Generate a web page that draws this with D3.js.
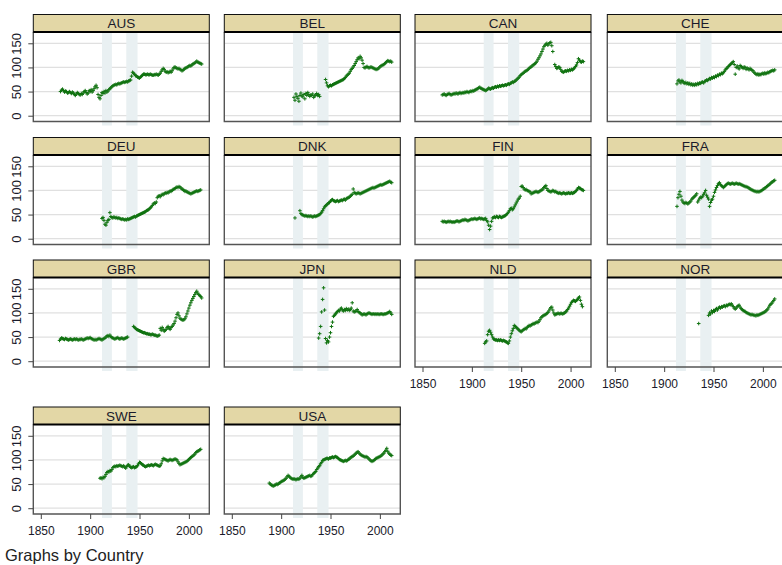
<!DOCTYPE html>
<html>
<head>
<meta charset="utf-8">
<script src="https://cdn.jsdelivr.net/npm/d3@7"></script>
<style>
  body { margin: 0; background: #fff; }
  svg { display: block; }
  text { font-family: "Liberation Sans", Arial, sans-serif; }
</style>
</head>
<body>
<div id="chart"></div>
<script>
// panels in the order Stata lays them out
const countries = ['AUS', 'BEL', 'CAN', 'CHE', 'DEU', 'DNK', 'FIN', 'FRA', 'GBR', 'JPN', 'NLD', 'NOR', 'SWE', 'USA'];
const startYears = [1870, 1913, 1870, 1913, 1912, 1914, 1870, 1913, 1869, 1938, 1913, 1935, 1910, 1888];

const yTicks = [0, 50, 100, 150];
const xTicks = [1850, 1900, 1950, 2000];
const warBands = [[1912, 1922], [1936.6, 1948]];

// annual values, one per year from the start year (null = no observation)
const AUS = [50, 53, 55, 52, 49, 51, 50, 47, 48, 50,
  48, 46, 49, 47, 44, 42, 45, 48, 46, 44,
  43, 46, 44, 47, 50, 52, 48, 45, 47, 52,
  50, 54, 49, 52, 56, 60, 63, 58, 44, 38,
  35, 42, 48, 46, 50, 47, 52, 49, 51, 54,
  56, 58, 60, 62, 63, 64, 65, 64, 66, 67,
  66, 67, 68, 69, 70, 69, 70, 71, 70, 72,
  73, 74, 82, 90, 88, 86, 83, 82, 80, 79,
  78, 80, 82, 84, 86, 86, 85, 85, 86, 85,
  85, 86, 85, 84, 84, 85, 85, 86, 85, 84,
  86, 88, 92, 95, 98, 96, 92, 90, 91, 89,
  90, 92, 90, 93, 97, 100, 101, 99, 98, 97,
  98, 96, 95, 93, 94, 96, 98, 99, 100, 101,
  103, 104, 103, 105, 107, 108, 109, 111, 113, 111,
  110, 109, 108, 107];
const BEL = [38, 32, 45, 40, 36, 30, 42,
  47, 41, 39, 44, 35, 46, 42, 48, 44, 40,
  43, 42, 45, 38, 41, 43, 46, 42, 44, 40,
  null, null, null, null, null, 75, 68, 62, 60, 62,
  63, 62, 64, 65, 66, 67, 68, 69, 70, 71,
  72, 73, 74, 75, 77, 79, 82, 84, 86, 88,
  92, 96, 98, 101, 104, 108, 112, 116, 120, 118,
  123, 120, 115, 108, 100, 99, 101, 102, 100, 99,
  100, 101, 100, 99, 98, 97, 96, 96, 97, 99,
  101, 103, 104, 105, 106, 108, 110, 112, 114, 113,
  112, 113, 111];
const CAN = [43, 44, 45, 43, 42, 44, 45, 46, 44, 43,
  44, 45, 46, 45, 47, 46, 45, 47, 48, 46,
  47, 48, 47, 49, 48, 50, 49, 48, 50, 51,
  50, 52, 51, 53, 54, 55, 56, 58, 59, 57,
  56, 55, 54, 53, 52, 53, 55, 57, 56, 55,
  57, 58, 57, 59, 60, 59, 61, 60, 62, 61,
  62, 63, 62, 63, 64, 63, 65, 66, 65, 67,
  68, 70, 69, 71, 72, 74, 76, 78, 80, 83,
  85, 87, 88, 90, 92, 93, 94, 96, 98, 100,
  101, 103, 105, 106, 108, 110, 113, 117, 120, 124,
  128, 133, 138, 143, 146, 148, 150, 146, 149, 151,
  152, 145, 133, null, 106, 102, 98, 99, 101, 100,
  96, 92, 91, 90, 92, 93, 92, 94, 93, 95,
  94, 96, 95, 97, 99, 102, 105, 110, 118, 115,
  112, 111, 113, 112];
const CHE = [66, 72, 74, 70, 68, 73, 71,
  68, 67, 69, 66, 68, 65, 67, 64, 66, 63,
  65, 63, 66, 64, 67, 65, 68, 67, 69, 70,
  68, 71, 72, 74, 73, 75, 77, 76, 79, 78,
  80, 79, 82, 81, 84, 83, 86, 85, 88, 87,
  89, 92, 95, 98, 99, 102, 104, 106, 108, 110,
  112, 106, 86, 100, 103, 99, 97, 104, 102, 100,
  98, 101, 100, 96, 99, 97, 95, 98, 96, 94,
  93, 90, 88, 86, 85, 87, 84, 86, 85, 87,
  88, 86, 89, 87, 88, 90, 89, 91, 92, 93,
  94, 93, 95];
const DEU = [42, 44, 38, 30, 28, 34, 38, 40,
  54, 46, 44, 43, 45, 44, 43, 44, 42, 43,
  42, 41, 40, 41, 40, 39, 40, 39, 41, 40,
  41, 42, 43, 44, 45, 46, 45, 47, 48, 49,
  50, 51, 52, 53, 54, 55, 56, 58, 59, 60,
  62, 64, 66, 69, 72, 74, 73, 76, 85, 88,
  89, 87, 90, 92, 91, 93, 95, 94, 96, 95,
  97, 99, 98, 100, 102, 103, 104, 106, 107, 106,
  108, 107, 105, 103, 102, 100, 98, 99, 97, 96,
  95, 94, 93, 94, 95, 96, 97, 98, 99, 98,
  99, 100, 101];
const DNK = [43, null, null, null, null, 58,
  52, 50, 49, 48, 47, 48, 47, 46, 47, 46,
  47, 46, 45, 46, 47, 46, 47, 48, 49, 50,
  52, 55, 58, 62, 66, 68, 70, 72, 74, 75,
  78, 80, 81, 79, 78, 77, 78, 79, 77, 78,
  79, 80, 79, 81, 82, 80, 83, 84, 85, 86,
  88, 90, 92, 103, 96, 94, 93, 94, 95, 94,
  93, 94, 95, 96, 97, 98, 99, 100, 101, 102,
  103, 104, 105, 106, 105, 106, 107, 108, 109, 110,
  111, 112, 111, 112, 113, 114, 115, 116, 117, 118,
  119, 117, 116];
const FIN = [36, 35, 36, 35, 34, 35, 36, 35, 36, 35,
  34, 35, 34, 35, 36, 37, 36, 35, 36, 37,
  38, 39, 38, 40, 39, 38, 37, 38, 39, 40,
  41, 40, 41, 42, 41, 40, 41, 42, 43, 41,
  42, 41, 40, 41, 42, 38, 35, 28, 19, 26,
  36, 43, 44, 45, 44, 46, 45, 44, 46, 45,
  44, 45, 46, 47, 48, 50, 52, 55, 58, 62,
  63, 60, 62, 66, 70, 74, 78, 82, 84, 88,
  108, 109, 106, 103, 101, 102, 100, 99, 98, 97,
  93, 94, 95, 96, 97, 98, 97, 96, 97, 99,
  100, 101, 103, 106, 108, 110, 104, 100, 99, 98,
  97, 98, 100, 99, 97, 98, 96, 95, 94, 95,
  94, 93, 94, 95, 94, 93, 94, 94, 95, 94,
  94, 95, 94, 95, 96, 98, 100, 103, 106, 105,
  104, 102, 101, 100];
const FRA = [67, 85, 92, 98, 88, 80, 76,
  74, 73, 75, 74, 72, 74, 76, 78, 82, 84,
  86, 88, 90, 93, 76, 80, 84, 86, 85, 88,
  92, 95, 100, 90, 86, 82, 67, 75, 80, 82,
  88, 96, 101, 106, 110, 114, 116, 112, 110, 108,
  106, 108, 110, 112, 114, 115, 114, 113, 114, 115,
  114, 113, 114, 115, 114, 113, 114, 113, 112, 111,
  110, 109, 108, 108, 107, 106, 105, 103, 102, 101,
  100, 99, 98, 98, 97, 98, 97, 98, 99, 100,
  102, 103, 105, 106, 108, 110, 111, 113, 115, 117,
  118, 120, 121];
const GBR = [43,
  46, 48, 47, 46, 45, 47, 46, 45, 44, 45,
  46, 45, 44, 45, 46, 45, 46, 45, 44, 45,
  45, 46, 45, 44, 45, 46, 47, 48, 47, 48,
  49, 47, 46, 45, 44, 45, 44, 45, 46, 47,
  46, 45, 44, 46, 47, 48, 50, 52, 53, 51,
  54, 51, 49, 48, 47, 46, 47, 48, 49, 47,
  46, 47, 48, 47, 46, 47, 48, 49, 50, null,
  null, null, null, null, 72, 70, 68, 66, 65, 64,
  63, 62, 61, 60, 59, 59, 58, 57, 57, 56,
  56, 55, 55, 56, 55, 54, 54, 53, 52, 53,
  54, 68, 64, 70, 66, 62, 64, 66, 70, 72,
  68, 66, 70, 72, 75, 78, 83, 90, 97, 100,
  94, 89, 87, 86, 85, 86, 88, 92, 98, 104,
  110, 116, 121, 126, 130, 134, 138, 142, 145, 141,
  138, 136, 134, 131];
const JPN = [48, 57,
  72, 102, 128, 152, 106, 47, 38, 43, 40, 50,
  59, 72, 81, 93, 95, 98, 100, 103, 105, 104,
  108, 110, 106, 104, 107, 105, 109, 106, 108, 105,
  107, 110, 121, 104, 102, 103, 104, 107, 103, 101,
  100, 98, 96, 97, 98, 97, 96, 98, 99, 100,
  99, 98, 97, 98, 98, 97, 98, 97, 98, 97,
  97, 98, 98, 97, 97, 98, 98, 99, 100, 101,
  103, 100, 97];
const NLD = [37, 40, 42, 55, 62, 64, 60,
  55, 50, 46, 45, 44, 44, 43, 44, 43, 44,
  43, 42, 43, 42, 41, 40, 38, 37, 42, 50,
  57, 63, 68, 74, 72, 70, 68, 66, 64, 62,
  61, 63, 65, 66, 68, 67, 70, 72, 74, 73,
  75, 76, 78, 77, 79, 80, 81, 80, 83, 86,
  90, 92, 94, 95, 96, 97, 99, 101, 104, 108,
  111, 112, 106, 100, 96, 97, 98, 99, 99, 98,
  99, 99, 98, 99, 100, 102, 104, 107, 110, 114,
  118, 122, 124, 126, 125, 124, 126, 128, 131, 133,
  126, 118, 113];
const NOR = [78, null, null, null, null, null,
  null, null, null, null, 95, 100, 98, 104, 101,
  105, 103, 107, 109, 106, 110, 112, 110, 113, 112,
  114, 115, 113, 116, 115, 117, 118, 117, 119, 116,
  113, 110, 108, 110, 113, 115, 116, 112, 109, 107,
  105, 104, 103, 101, 100, 99, 98, 97, 96, 97,
  96, 95, 95, 94, 96, 95, 96, 97, 98, 99,
  100, 101, 102, 104, 106, 108, 112, 116, 118, 120,
  123, 126, 129];
const SWE = [62, 63, 61, 64, 63, 66, 70, 74, 76, 75,
  78, 77, 80, 84, 86, 87, 86, 88, 87, 88,
  89, 88, 87, 86, 88, 85, 83, 86, 89, 90,
  87, 85, 84, 85, 86, 84, 85, 86, 88, 92,
  95, 94, 92, 90, 89, 87, 86, 87, 88, 89,
  88, 89, 90, 89, 88, 90, 91, 90, 89, 88,
  87, 88, 92, 98, 103, 102, 101, 100, 99, 98,
  100, 101, 100, 99, 100, 101, 102, 101, 100, 96,
  93, 90, 91, 92, 93, 94, 95, 96, 97, 99,
  101, 103, 105, 107, 108, 110, 112, 115, 117, 118,
  119, 121, 122];
const USA = [52, 50,
  48, 47, 46, 47, 48, 50, 49, 50, 52, 53,
  55, 56, 57, 58, 60, 62, 65, 68, 66, 64,
  62, 61, 60, 61, 60, 59, 60, 61, 60, 62,
  65, 68, 64, 62, 63, 64, 65, 66, 67, 68,
  66, 67, 70, 72, 74, 76, 80, 83, 86, 88,
  92, 95, 99, 100, 101, 102, 103, 103, 102, 104,
  104, 105, 106, 105, 106, 107, 106, 105, 103, 101,
  100, 99, 98, 97, 98, 99, 98, 99, 101, 102,
  104, 106, 107, 108, 110, 112, 114, 116, 117, 114,
  112, 110, 109, 108, 107, 106, 107, 106, 104, 102,
  100, 98, 97, 98, 99, 101, 103, 104, 105, 106,
  107, 108, 110, 112, 114, 117, 120, 124, 118, 114,
  112, 110, 109];

const valueArrays = [AUS, BEL, CAN, CHE, DEU, DNK, FIN, FRA, GBR, JPN, NLD, NOR, SWE, USA];

const width = 782, height = 565;
const colLeft = [33.3, 224.3, 415, 607.3];
const rowTop = [14.5, 137.5, 260, 407];
const panelW = 176, stripH = 17.5, plotH = 89.5;
// panels that carry an x axis (nothing below them)
const withXAxis = ['NLD', 'NOR', 'SWE', 'USA'];

const svg = d3.select('#chart').append('svg')
  .attr('width', width)
  .attr('height', height);

const series = countries.map((c, i) => ({
  country: c,
  values: valueArrays[i]
    .map((v, j) => ({ year: startYears[i] + j, value: v }))
    .filter(d => d.value != null)
}));

series.forEach((s, i) => {
  const col = i % 4, row = Math.floor(i / 4);
  const left = colLeft[col];
  const top = rowTop[row] + stripH;
  const bottom = top + plotH;

  const x = d3.scaleLinear().domain([1842.4, 2020.7]).range([left, left + panelW]);
  const y = d3.scaleLinear().domain([-12, 173.4]).range([bottom, top]);

  const g = svg.append('g');

  // grid
  g.selectAll('.grid')
    .data(yTicks)
    .join('line')
    .attr('x1', left).attr('x2', left + panelW)
    .attr('y1', d => y(d)).attr('y2', d => y(d))
    .attr('stroke', '#e0e0e0')
    .attr('stroke-width', 1.3);

  // war shading
  g.selectAll('.band')
    .data(warBands)
    .join('rect')
    .attr('x', d => x(d[0]))
    .attr('width', d => x(d[1]) - x(d[0]))
    .attr('y', top)
    .attr('height', plotH + 4)
    .attr('fill', '#e9f0f2');

  // plot border
  g.append('path')
    .attr('d', `M${left},${top}V${bottom}H${left + panelW}V${top}`)
    .attr('fill', 'none')
    .attr('stroke', '#555')
    .attr('stroke-width', 1.4);

  // strip
  g.append('rect')
    .attr('x', left).attr('y', rowTop[row])
    .attr('width', panelW).attr('height', stripH)
    .attr('fill', '#e3d7a6')
    .attr('stroke', '#111')
    .attr('stroke-width', 1);
  g.append('line')
    .attr('x1', left).attr('x2', left + panelW)
    .attr('y1', top).attr('y2', top)
    .attr('stroke', '#000')
    .attr('stroke-width', 2);
  g.append('text')
    .attr('x', left + panelW / 2)
    .attr('y', rowTop[row] + stripH / 2)
    .attr('dy', '0.36em')
    .attr('text-anchor', 'middle')
    .attr('font-size', 13.5)
    .attr('fill', '#1a1a2a')
    .text(s.country);

  // y axis on the first column
  if (col === 0) {
    const ax = g.append('g')
      .attr('transform', `translate(${left},0)`)
      .call(d3.axisLeft(y).tickValues(yTicks).tickSize(5));
    ax.select('.domain').remove();
    ax.selectAll('line').attr('stroke', '#444');
    ax.selectAll('text')
      .attr('font-size', 13)
      .attr('fill', '#1a1a2a')
      .attr('text-anchor', 'middle')
      .attr('transform', 'rotate(-90)')
      .attr('x', 0)
      .attr('y', -16.5)
      .attr('dy', '0.35em');
  }

  // x axis on the bottom panels
  if (withXAxis.includes(s.country)) {
    const ax = g.append('g')
      .attr('transform', `translate(0,${bottom})`)
      .call(d3.axisBottom(x).tickValues(xTicks).tickSize(5).tickPadding(7).tickFormat(d3.format('d')));
    ax.select('.domain').remove();
    ax.selectAll('line').attr('stroke', '#444');
    ax.selectAll('text')
      .attr('font-size', 12)
      .attr('fill', '#1a1a2a');
  }

  // markers: small plus signs
  g.append('path')
    .attr('d', s.values.map(d => {
      const px = x(d.year), py = y(d.value);
      return `M${px - 1.8},${py}h3.6M${px},${py - 1.8}v3.6`;
    }).join(''))
    .attr('fill', 'none')
    .attr('stroke', '#117311')
    .attr('stroke-width', 1);
});

svg.append('text')
  .attr('x', 5)
  .attr('y', 561)
  .attr('font-size', 16.5)
  .attr('fill', '#222')
  .text('Graphs by Country');
</script>
</body>
</html>
